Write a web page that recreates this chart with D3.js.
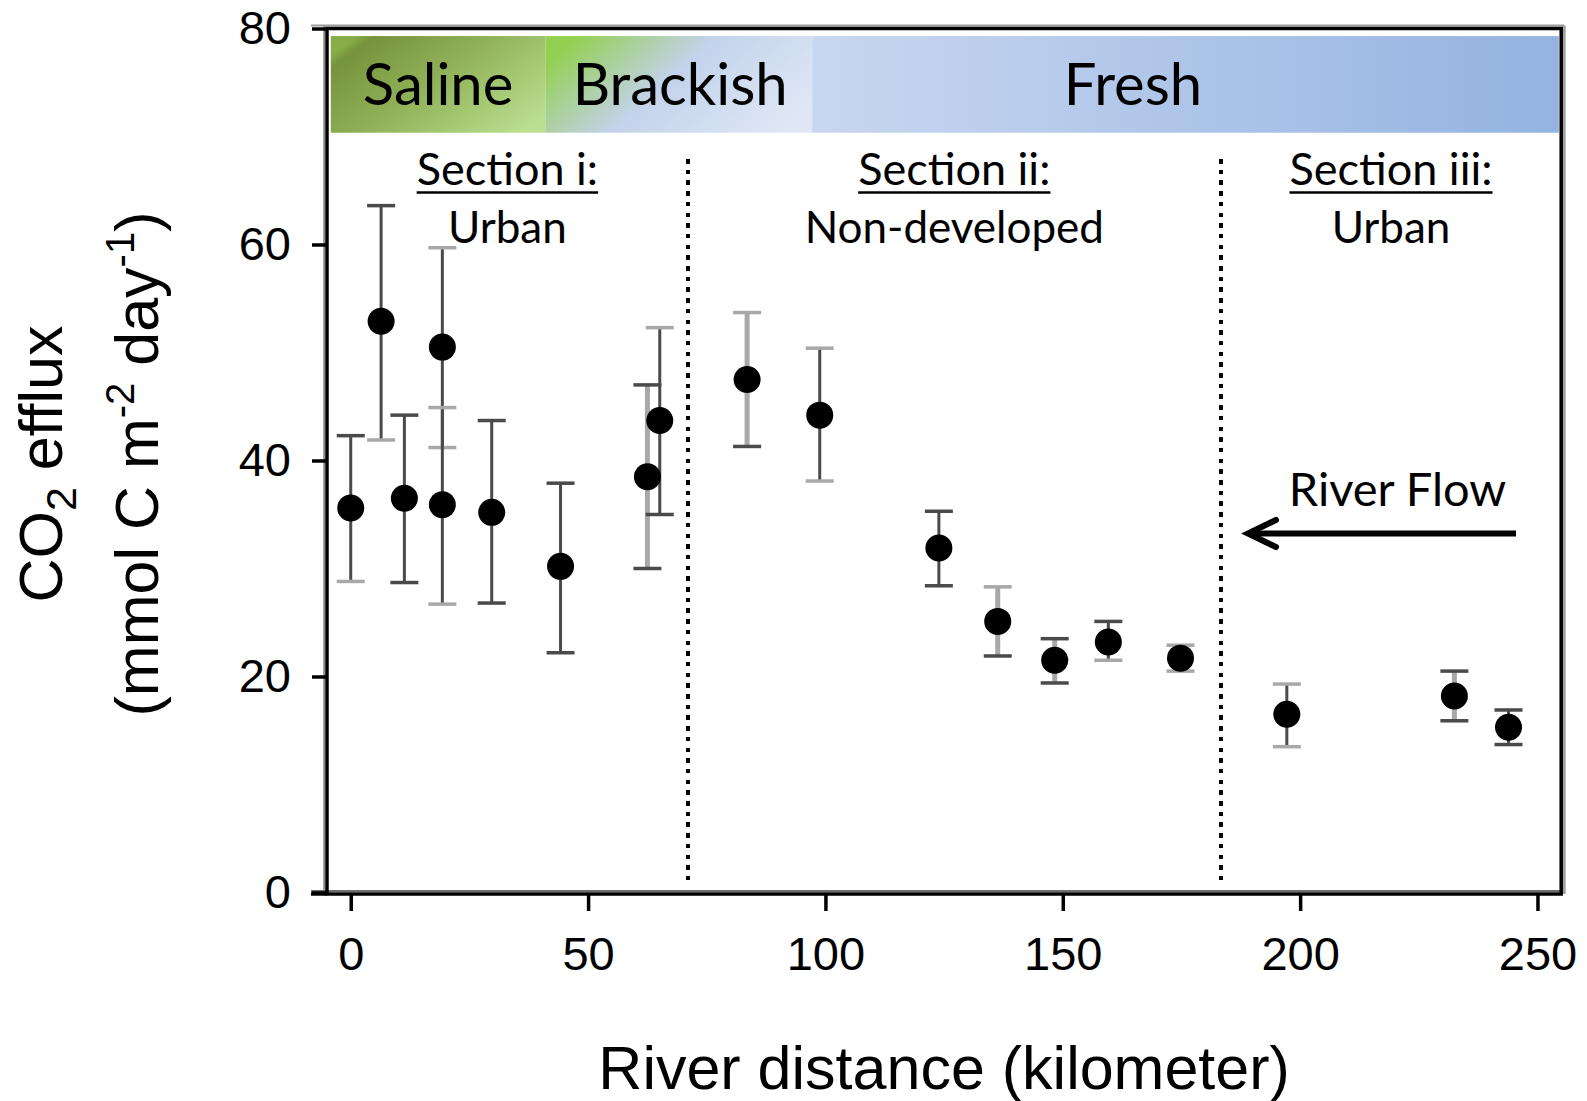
<!DOCTYPE html>
<html>
<head>
<meta charset="utf-8">
<script src="https://cdn.jsdelivr.net/npm/d3@7"></script>
<style>
  html, body { margin: 0; padding: 0; background: #fff; }
  svg { display: block; }
</style>
</head>
<body>
<svg id="chart" width="1587" height="1101"></svg>
<script>
// CO2 efflux along the river, sampled by distance from the mouth
const distanceKm = [0, 6.4, 11.3, 19.3, 19.3, 29.7, 44.2, 62.5, 65.1, 83.5, 98.8,
                    123.9, 136.3, 148.3, 159.6, 174.8, 197.2, 232.5, 243.9];
const effluxMean = [35.6, 52.9, 36.5, 50.5, 35.9, 35.2, 30.2, 38.5, 43.7, 47.5, 44.2,
                    31.9, 25.1, 21.5, 23.2, 21.7, 16.5, 18.2, 15.3];
const effluxHigh = [42.3, 63.6, 44.2, 59.7, 44.9, 43.7, 37.9, 47.0, 52.3, 53.7, 50.4,
                    35.3, 28.3, 23.5, 25.1, 22.9, 19.3, 20.5, 16.9];
const effluxLow  = [28.8, 41.9, 28.7, 41.2, 26.7, 26.8, 22.2, 30.0, 35.0, 41.3, 38.1,
                    28.4, 21.9, 19.4, 21.5, 20.5, 13.5, 15.9, 13.7];

const xTicks = [0, 50, 100, 150, 200, 250];
const yTicks = [0, 20, 40, 60, 80];

// salinity zones along the river (km)
const zoneNames = ["Saline", "Brackish", "Fresh"];
const zoneEdges = [-4.2, 41.0, 97.2, 254.5];
const zoneLabelKm = [18.4, 69.4, 164.8];

// land-use sections separated by dotted lines (km)
const sectionTitles = ["Section i:", "Section ii:", "Section iii:"];
const sectionTypes = ["Urban", "Non-developed", "Urban"];
const sectionEdges = [-5, 71, 183.3, 255];

(function draw() {
  const svg = d3.select("#chart");
  const x = d3.scaleLinear().domain([-5, 255]).range([327, 1561.2]);
  const y = d3.scaleLinear().domain([0, 80]).range([892.5, 28.5]);

  const axisFont = "'Liberation Sans', Arial, sans-serif";
  const noteFont = "Lato, 'Open Sans', sans-serif";

  // ---------- salinity band ----------
  const defs = svg.append("defs");
  const gradStops = [
    { x1: 0, y1: 0.2, x2: 1, y2: 0.8,
      stops: [[0, "#86ad48"], [0.06, "#77933c"], [0.45, "#8fb056"], [1, "#b9de8f"]] },
    { x1: 0, y1: 0.3, x2: 1, y2: 0.7,
      stops: [[0, "#93d052"], [0.22, "#abd09e"], [0.45, "#c3d3eb"], [1, "#dfe7f5"]] },
    { x1: 0, y1: 0, x2: 1, y2: 0,
      stops: [[0, "#c8d7f0"], [1, "#94b3e1"]] }
  ];
  gradStops.forEach((g, i) => {
    const lg = defs.append("linearGradient").attr("id", "zone" + i)
      .attr("x1", g.x1).attr("y1", g.y1).attr("x2", g.x2).attr("y2", g.y2);
    g.stops.forEach(s => lg.append("stop").attr("offset", s[0]).attr("stop-color", s[1]));
  });

  const bandTop = y(79.3), bandBottom = y(70.35);
  const band = svg.append("g");
  zoneNames.forEach((name, i) => {
    band.append("rect")
      .attr("x", x(zoneEdges[i]))
      .attr("y", bandTop)
      .attr("width", x(zoneEdges[i + 1]) - x(zoneEdges[i]))
      .attr("height", bandBottom - bandTop)
      .attr("fill", `url(#zone${i})`);
    band.append("text")
      .attr("x", x(zoneLabelKm[i]))
      .attr("y", 105)
      .attr("text-anchor", "middle")
      .attr("font-family", noteFont)
      .attr("font-size", 58)
      .attr("fill", "#000")
      .text(name);
  });

  // ---------- section dividers and titles ----------
  [sectionEdges[1], sectionEdges[2]].forEach(km => {
    svg.append("line")
      .attr("x1", Math.round(x(km))).attr("x2", Math.round(x(km)))
      .attr("y1", 159).attr("y2", 880)
      .attr("stroke", "#000")
      .attr("stroke-width", 4)
      .attr("stroke-dasharray", "4.5 6.2")
      .attr("shape-rendering", "crispEdges");
  });

  sectionTitles.forEach((title, i) => {
    const cx = x((sectionEdges[i] + sectionEdges[i + 1]) / 2);
    const t = svg.append("text")
      .attr("x", cx).attr("y", 185)
      .attr("text-anchor", "middle")
      .attr("font-family", noteFont)
      .attr("font-size", 45)
      .text(title);
    const bb = t.node().getBBox();
    svg.append("line")
      .attr("x1", bb.x).attr("x2", bb.x + bb.width)
      .attr("y1", 192.5).attr("y2", 192.5)
      .attr("stroke", "#000").attr("stroke-width", 2.6);
    svg.append("text")
      .attr("x", cx).attr("y", 243)
      .attr("text-anchor", "middle")
      .attr("font-family", noteFont)
      .attr("font-size", 44)
      .text(sectionTypes[i]);
  });

  // ---------- river flow arrow ----------
  svg.append("text")
    .attr("x", 1397.5).attr("y", 506)
    .attr("text-anchor", "middle")
    .attr("font-family", noteFont)
    .attr("font-size", 47)
    .text("River Flow");
  svg.append("line")
    .attr("x1", 1516).attr("x2", 1250)
    .attr("y1", 533.5).attr("y2", 533.5)
    .attr("stroke", "#000").attr("stroke-width", 6);
  svg.append("path")
    .attr("d", "M1276,520 L1248,533.5 L1276,547")
    .attr("fill", "none").attr("stroke", "#000")
    .attr("stroke-width", 6).attr("stroke-linecap", "round").attr("stroke-linejoin", "miter");

  // ---------- error bars and points ----------
  const dark = "#4a4a4a", light = "#a8a8a8";
  const lightStem = new Set([7, 9, 12, 13, 17]);
  const lightTopCap = new Set([3, 4, 8, 9, 10, 12, 15, 16]);
  const lightBottomCap = new Set([0, 1, 3, 4, 10, 14, 15, 16]);
  const capHalf = 14;

  const pts = distanceKm.map((km, i) => ({
    i, km, mean: effluxMean[i], hi: effluxHigh[i], lo: effluxLow[i]
  }));

  const bars = svg.append("g");
  pts.forEach(p => {
    const cx = x(p.km);
    bars.append("line")
      .attr("x1", cx).attr("x2", cx)
      .attr("y1", y(p.hi)).attr("y2", y(p.lo))
      .attr("stroke", lightStem.has(p.i) ? light : dark)
      .attr("stroke-width", lightStem.has(p.i) ? 5 : 3);
    bars.append("line")
      .attr("x1", cx - capHalf).attr("x2", cx + capHalf)
      .attr("y1", y(p.hi)).attr("y2", y(p.hi))
      .attr("stroke", lightTopCap.has(p.i) ? light : dark)
      .attr("stroke-width", 3.5);
    bars.append("line")
      .attr("x1", cx - capHalf).attr("x2", cx + capHalf)
      .attr("y1", y(p.lo)).attr("y2", y(p.lo))
      .attr("stroke", lightBottomCap.has(p.i) ? light : dark)
      .attr("stroke-width", 3.5);
  });

  svg.append("g").selectAll("circle")
    .data(pts)
    .join("circle")
    .attr("cx", d => x(d.km))
    .attr("cy", d => y(d.mean))
    .attr("r", 13.5)
    .attr("fill", "#000");

  // ---------- frame and axes ----------
  const fLeft = x.range()[0], fRight = x.range()[1];
  const fTop = y(80), fBottom = y(0) + 1.5;
  const frame = svg.append("g").attr("fill", "none");
  // soft grey edge beside each frame line
  frame.append("line").attr("x1", fLeft - 2.8).attr("x2", fLeft - 2.8).attr("y1", fTop - 3).attr("y2", fBottom)
    .attr("stroke", "#8c8c8c").attr("stroke-width", 2);
  frame.append("line").attr("x1", 311).attr("x2", fRight + 3).attr("y1", fTop - 3).attr("y2", fTop - 3)
    .attr("stroke", "#9a9a9a").attr("stroke-width", 2);
  frame.append("line").attr("x1", 311).attr("x2", fRight).attr("y1", fBottom - 3).attr("y2", fBottom - 3)
    .attr("stroke", "#6e6e6e").attr("stroke-width", 2);
  frame.append("line").attr("x1", fRight + 3).attr("x2", fRight + 3).attr("y1", fTop - 3).attr("y2", fBottom)
    .attr("stroke", "#a0a0a0").attr("stroke-width", 3);
  // black frame
  frame.append("path")
    .attr("d", `M${fLeft},${fTop} L${fRight},${fTop} L${fRight},${fBottom} L${fLeft},${fBottom} Z`)
    .attr("stroke", "#000").attr("stroke-width", 3.5);
  frame.append("line").attr("x1", 311).attr("x2", fLeft).attr("y1", fBottom).attr("y2", fBottom)
    .attr("stroke", "#000").attr("stroke-width", 3.5);

  const yAxis = svg.append("g")
    .attr("transform", `translate(${fLeft},0)`)
    .call(d3.axisLeft(y).tickValues(yTicks).tickSize(15).tickPadding(21));
  yAxis.select(".domain").remove();
  yAxis.selectAll(".tick line").attr("stroke", "#000").attr("stroke-width", 3.5);
  yAxis.selectAll(".tick text")
    .attr("font-family", axisFont).attr("font-size", 47).attr("fill", "#000").attr("dy", "0.32em");

  const xAxis = svg.append("g")
    .attr("transform", `translate(0,${fBottom})`)
    .call(d3.axisBottom(x).tickValues(xTicks).tickSize(17).tickPadding(26));
  xAxis.select(".domain").remove();
  xAxis.selectAll(".tick line").attr("stroke", "#000").attr("stroke-width", 3.5);
  xAxis.selectAll(".tick text")
    .attr("font-family", axisFont).attr("font-size", 47).attr("fill", "#000");

  // ---------- axis titles ----------
  svg.append("text")
    .attr("x", (fLeft + fRight) / 2).attr("y", 1089)
    .attr("text-anchor", "middle")
    .attr("font-family", axisFont).attr("font-size", 61)
    .text("River distance (kilometer)");

  const yTitle = svg.append("g").attr("transform", "translate(62,464) rotate(-90)");
  const l1 = yTitle.append("text")
    .attr("x", 0).attr("y", 0)
    .attr("text-anchor", "middle")
    .attr("font-family", axisFont).attr("font-size", 61);
  l1.append("tspan").text("CO");
  l1.append("tspan").attr("font-size", 43).attr("dy", 14).text("2");
  l1.append("tspan").attr("dy", -14).text(" efflux");

  const l2 = yTitle.append("text")
    .attr("x", 0).attr("y", 96)
    .attr("text-anchor", "middle")
    .attr("font-family", axisFont).attr("font-size", 61);
  l2.append("tspan").text("(mmol C m");
  l2.append("tspan").attr("font-size", 40).attr("dy", -24).text("-2");
  l2.append("tspan").attr("dy", 24).text(" day");
  l2.append("tspan").attr("font-size", 40).attr("dy", -24).text("-1");
  l2.append("tspan").attr("dy", 24).text(")");
})();
</script>
</body>
</html>
